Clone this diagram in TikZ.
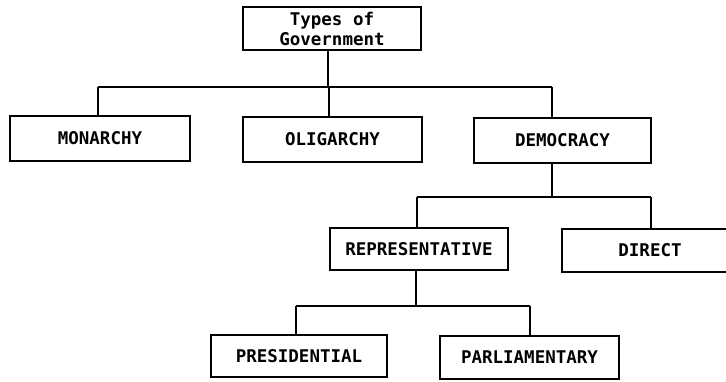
\documentclass[tikz,border=0pt]{standalone}
\usepackage{fontspec}
\newfontfamily\boxfont{DejaVu Sans Mono}[BoldFont={DejaVu Sans Mono Bold}]
\begin{document}
\begin{tikzpicture}[x=1pt,y=-1pt,
  box/.style={draw,line width=1.2pt,rectangle,inner sep=0pt,minimum height=44pt,
    font=\boxfont\bfseries\fontsize{17.5}{20}\selectfont},
  link/.style={line width=1.2pt}]
\useasboundingbox (0,0) rectangle (726,381);
\node[box,minimum width=178pt,minimum height=43pt,align=center] (top) at (332,28.5) {Types of\\Government};
\node[box,minimum width=180pt,minimum height=45pt] (mon) at (100,138.5) {MONARCHY};
\node[box,minimum width=179pt,minimum height=45pt] (oli) at (332.5,139.5) {OLIGARCHY};
\node[box,minimum width=177pt,minimum height=45pt] (dem) at (562.5,140.5) {DEMOCRACY};
\node[box,minimum width=178pt,minimum height=42pt] (rep) at (419,249) {REPRESENTATIVE};
\node[box,minimum width=176pt,minimum height=43pt] (dir) at (650,250.5) {DIRECT};
\node[box,minimum width=176pt,minimum height=42pt] (pres) at (299,356) {PRESIDENTIAL};
\node[box,minimum width=179pt,minimum height=43pt] (parl) at (529.5,357.5) {PARLIAMENTARY};
% junction coordinates
\coordinate (j1) at (328,87);
\coordinate (j1l) at (98,87);
\coordinate (j1m) at (329,87);
\coordinate (j1r) at (552,87);
\coordinate (j2) at (552,197);
\coordinate (j2l) at (417,197);
\coordinate (j2r) at (651,197);
\coordinate (j3) at (416,306);
\coordinate (j3l) at (296,306);
\coordinate (j3r) at (530,306);
% level 1
\draw[link] (top.south -| j1) -- (j1);
\draw[link] (j1l) -- (j1r);
\draw[link] (j1l) -- (j1l |- mon.north);
\draw[link] (j1m) -- (j1m |- oli.north);
\draw[link] (j1r) -- (j1r |- dem.north);
% level 2
\draw[link] (dem.south -| j2) -- (j2);
\draw[link] (j2l) -- (j2r);
\draw[link] (j2l) -- (j2l |- rep.north);
\draw[link] (j2r) -- (j2r |- dir.north);
% level 3
\draw[link] (rep.south -| j3) -- (j3);
\draw[link] (j3l) -- (j3r);
\draw[link] (j3l) -- (j3l |- pres.north);
\draw[link] (j3r) -- (j3r |- parl.north);
\end{tikzpicture}
\end{document}
